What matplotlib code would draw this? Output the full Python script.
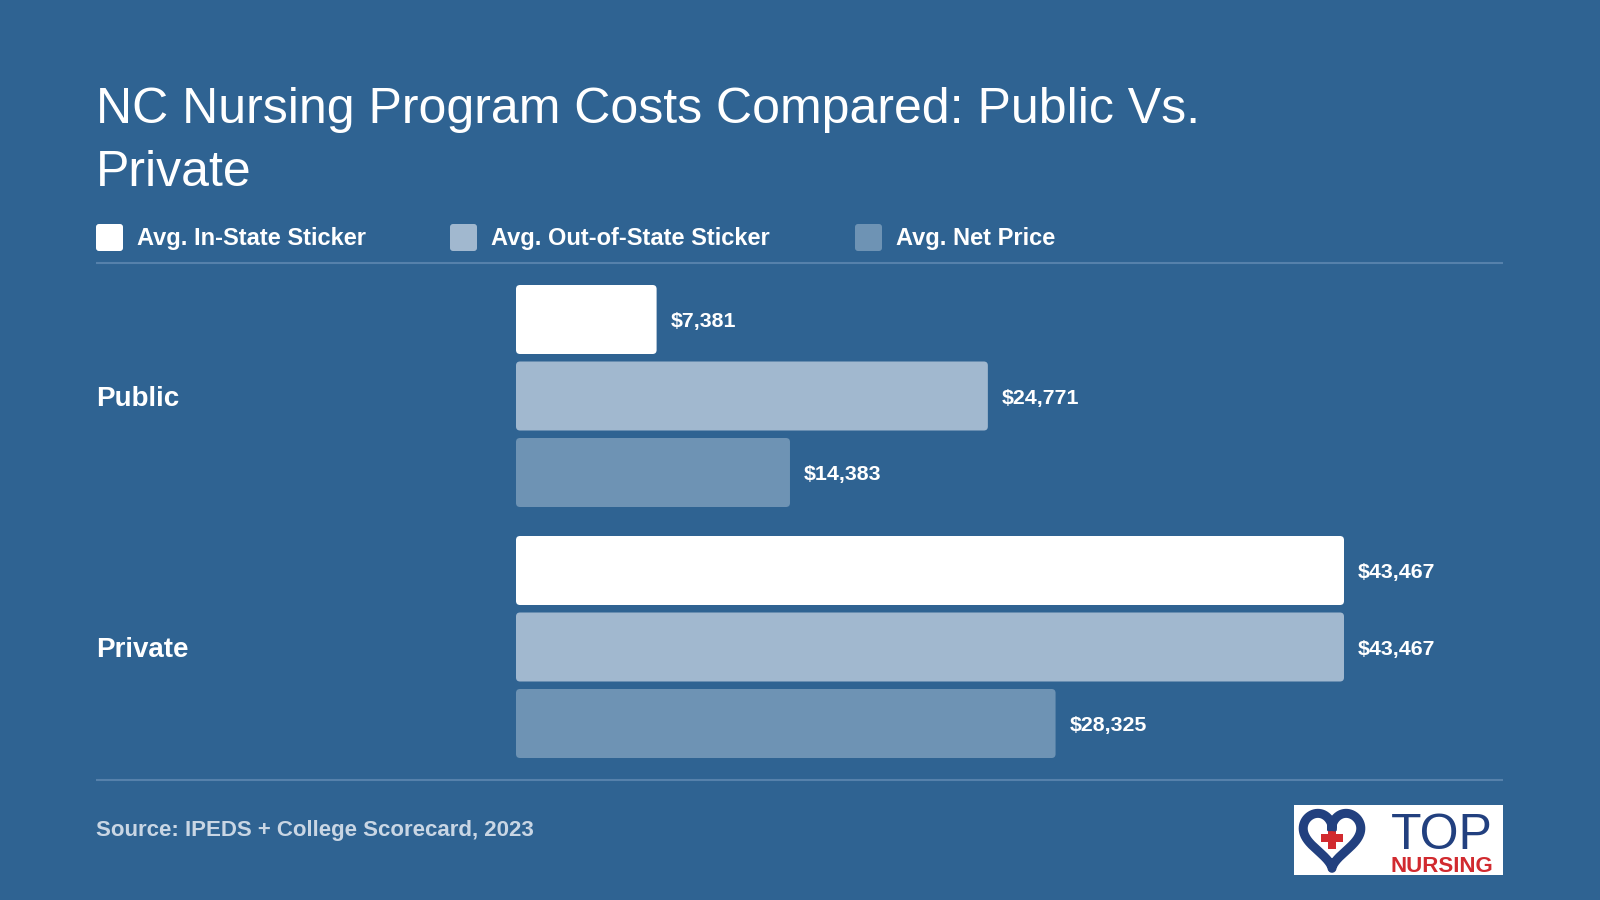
import numpy as np
import matplotlib
matplotlib.use("Agg")
import matplotlib.pyplot as plt
from matplotlib.patches import FancyBboxPatch, Rectangle
from matplotlib.transforms import blended_transform_factory

# ---- data ----
title_line1 = "NC Nursing Program Costs Compared: Public Vs."
title_line2 = "Private"
categories = ["Public", "Private"]
series_names = ["Avg. In-State Sticker", "Avg. Out-of-State Sticker", "Avg. Net Price"]
in_state = [7381, 43467]
out_state = [24771, 43467]
net_price = [14383, 28325]
source_text = "Source: IPEDS + College Scorecard, 2023"

BG = "#2F6392"
colors = ["#FFFFFF", "#A1B8CF", "#6E93B4"]
SEP = "#5681AB"
FONT = ["Liberation Sans", "DejaVu Sans"]

plt.rcParams["font.family"] = FONT

fig = plt.figure(figsize=(16, 9), dpi=100, facecolor=BG)

# overlay axes in pixel coordinates
ov = fig.add_axes([0, 0, 1, 1], facecolor="none", zorder=0)
ov.set_xlim(0, 1600)
ov.set_ylim(900, 0)
ov.axis("off")

# title
ov.text(96, 123, title_line1, fontsize=36, color="white", va="baseline", ha="left")
ov.text(96, 186, title_line2, fontsize=36, color="white", va="baseline", ha="left")

# legend
leg_x = [96, 450, 855]
for lx, name, c in zip(leg_x, series_names, colors):
    ov.add_patch(FancyBboxPatch((lx, 224), 27, 27, boxstyle="round,pad=0,rounding_size=3",
                                fc=c, ec="none"))
    ov.text(lx + 41, 245.5, name, fontsize=17, fontweight="bold", color="white",
            va="baseline", ha="left")

# separators
ov.plot([96, 1503], [263, 263], color=SEP, lw=1.5, solid_capstyle="butt")
ov.plot([96, 1503], [780, 780], color=SEP, lw=1.5, solid_capstyle="butt")

# source
ov.text(96, 836, source_text, fontsize=16, fontweight="bold", color="#C9D6E4",
        va="baseline", ha="left")

# logo
ov.add_patch(Rectangle((1294, 805), 209, 70, fc="white", ec="none"))
t = np.linspace(0, 2 * np.pi, 400)
hx = 16 * np.sin(t) ** 3
hy = 13 * np.cos(t) - 5 * np.cos(2 * t) - 2 * np.cos(3 * t) - np.cos(4 * t)
ov.plot(1332 + hx * 1.8, 836 - hy * 1.9, color="#22407F", lw=6.5, solid_joinstyle="round")
ov.add_patch(Rectangle((1321, 834), 22, 8, fc="#D12A2F", ec="none"))
ov.add_patch(Rectangle((1328, 827), 8, 22, fc="#D12A2F", ec="none"))
ov.text(1442, 849, "TOP", fontsize=36, color="#22407F", va="baseline", ha="center")
ov.text(1442, 872, "NURSING", fontsize=16, fontweight="bold", color="#D12A2F",
        va="baseline", ha="center")

# bars axes: x from 516 px to 1503 px, y from 270 px to 770 px
ax_left, ax_right, ax_top, ax_bot = 516, 1503, 270, 770
ax = fig.add_axes([ax_left / 1600, 1 - ax_bot / 900, (ax_right - ax_left) / 1600,
                   (ax_bot - ax_top) / 900], facecolor="none", zorder=1)
px_per_x = 828 / 43467.0
xmax = (ax_right - ax_left) / px_per_x
ax.set_xlim(0, xmax)
px_per_y = 251.0
ax.set_ylim((ax_bot - 396) / px_per_y, (ax_top - 396) / px_per_y)
ax.axis("off")

offset = 76.5 / px_per_y
bar_h = 69 / px_per_y
ypos = np.arange(len(categories))
all_series = [in_state, out_state, net_price]
for i, (vals, c) in enumerate(zip(all_series, colors)):
    ys = ypos + (i - 1) * offset
    bars = ax.barh(ys, vals, height=bar_h, color=c)
    for b, v, y in zip(bars, vals, ys):
        b.set_visible(False)
        x0, y0 = b.get_x(), b.get_y()
        w, h = b.get_width(), b.get_height()
        r_px = 4
        fb = FancyBboxPatch((x0, y0), w, h,
                            boxstyle=f"round,pad=0,rounding_size={r_px / px_per_x}",
                            mutation_aspect=px_per_x / px_per_y,
                            fc=c, ec="none")
        ax.add_patch(fb)
        ax.annotate(f"${v:,}", xy=(v, y), xytext=(14 * 0.72, -2.2 * 0.72),
                    textcoords="offset points",
                    fontsize=15.4, fontweight="bold", color="white", va="center", ha="left")

# category labels
trans = blended_transform_factory(fig.transFigure, ax.transData)
for y, cat in zip(ypos, categories):
    ax.text(96 / 1600, y + 3 / px_per_y, cat, transform=trans, fontsize=20, fontweight="bold",
            color="white", va="center", ha="left")

fig.savefig("out.png", dpi=100, facecolor=BG)
